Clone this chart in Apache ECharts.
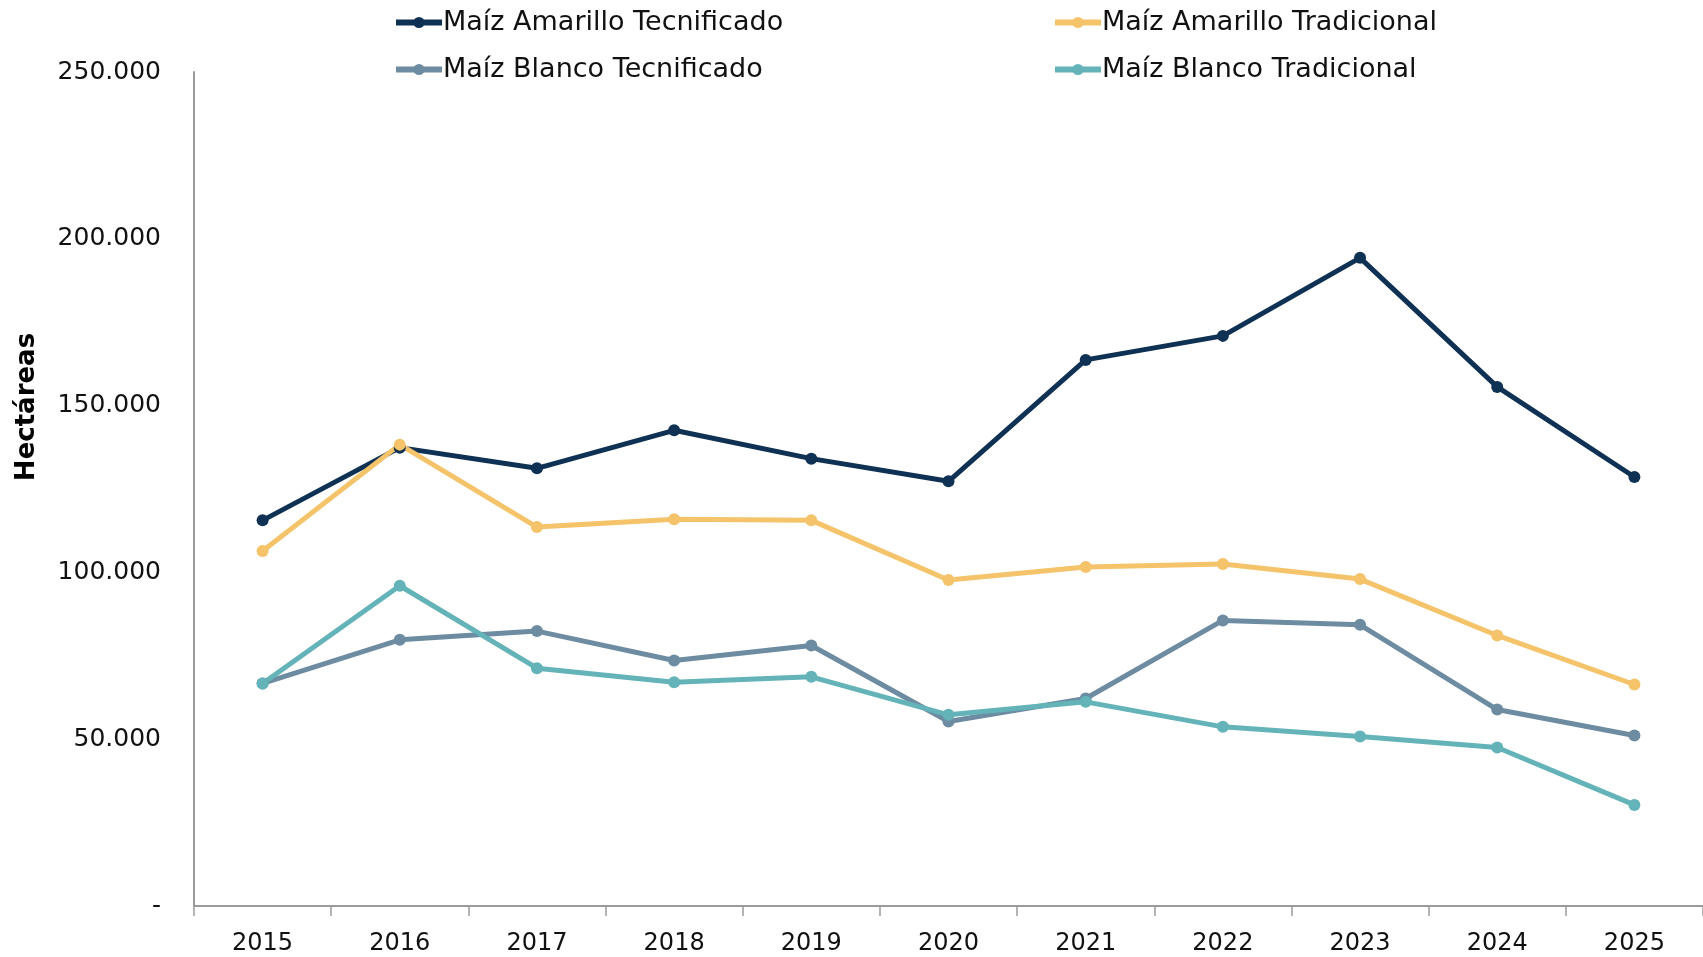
<!DOCTYPE html>
<html>
<head>
<meta charset="utf-8">
<script src="https://cdn.jsdelivr.net/npm/echarts@6/dist/echarts.min.js"></script>
<style>
  html, body { margin: 0; padding: 0; background: #fff; }
  #chart { width: 1703px; height: 957px; }
</style>
</head>
<body>
<div id="chart"></div>
<script>
// años
var years = ['2015', '2016', '2017', '2018', '2019', '2020', '2021', '2022', '2023', '2024', '2025'];

// hectáreas por tipo de maíz
var amarilloTecnificado = [115600, 137400, 131200, 142600, 134100, 127300, 163700, 170900, 194300, 155600, 128600];
var amarilloTradicional = [106400, 138300, 113600, 115900, 115600, 97700, 101600, 102500, 98000, 81100, 66400];
var blancoTecnificado = [66700, 79800, 82400, 73600, 78100, 55300, 62200, 85600, 84300, 58900, 51100];
var blancoTradicional = [66700, 96000, 71300, 67100, 68700, 57300, 61200, 53700, 50800, 47500, 30300];

var yTicks = [0, 50000, 100000, 150000, 200000, 250000];

var FONT = '"DejaVu Sans", sans-serif';

function fmt(v)
{
    if (v === 0) return '-';
    return String(v).replace(/\B(?=(\d{3})+(?!\d))/g, '.');
}

function serie(name, data, color)
{
    return {
        name: name,
        type: 'line',
        data: data,
        symbol: 'circle',
        symbolSize: 12,
        lineStyle: { width: 5, color: color },
        itemStyle: { color: color },
        emphasis: { disabled: true }
    };
}

// leyenda en dos columnas
function leyenda(left, items)
{
    return {
        orient: 'vertical',
        left: left, top: 4,
        itemWidth: 46, itemHeight: 14, itemGap: 20,
        lineStyle: { width: 6 },
        textStyle: { fontFamily: FONT, fontSize: 27, color: '#111', padding: [0, 0, 0, -4] },
        data: items
    };
}

var myChart = echarts.init(document.getElementById('chart'));

var option = {
    animation: false,
    backgroundColor: '#fff',
    grid: { left: 194, right: -3, top: 72, bottom: 51 },
    legend: [
        leyenda(388, ['Maíz Amarillo Tecnificado', 'Maíz Blanco Tecnificado']),
        leyenda(1047, ['Maíz Amarillo Tradicional', 'Maíz Blanco Tradicional'])
    ],
    graphic: [{
        type: 'text',
        x: 27, y: 407,
        rotation: Math.PI / 2,
        style: {
            text: 'Hectáreas',
            fontFamily: FONT, fontSize: 26, fontWeight: 'bold', fill: '#000',
            align: 'center', verticalAlign: 'middle'
        }
    }],
    xAxis: {
        type: 'category',
        data: years,
        boundaryGap: true,
        axisLine: { lineStyle: { color: '#9a9a9a', width: 2 } },
        axisTick: { show: true, length: 10, lineStyle: { color: '#9a9a9a', width: 1.5 } },
        axisLabel: { fontFamily: FONT, fontSize: 24, color: '#111', margin: 26 }
    },
    yAxis: {
        type: 'value',
        min: yTicks[0],
        max: yTicks[yTicks.length - 1],
        interval: 50000,
        axisLine: { show: true, lineStyle: { color: '#9a9a9a', width: 2 } },
        axisTick: { show: false },
        splitLine: { show: false },
        axisLabel: { fontFamily: FONT, fontSize: 25, color: '#111', margin: 33, formatter: fmt }
    },
    series: [
        serie('Maíz Amarillo Tecnificado', amarilloTecnificado, '#0f3153'),
        serie('Maíz Amarillo Tradicional', amarilloTradicional, '#f4c36a'),
        serie('Maíz Blanco Tecnificado', blancoTecnificado, '#6d8ca2'),
        serie('Maíz Blanco Tradicional', blancoTradicional, '#63b3b9')
    ]
};

myChart.setOption(option);
</script>
</body>
</html>
